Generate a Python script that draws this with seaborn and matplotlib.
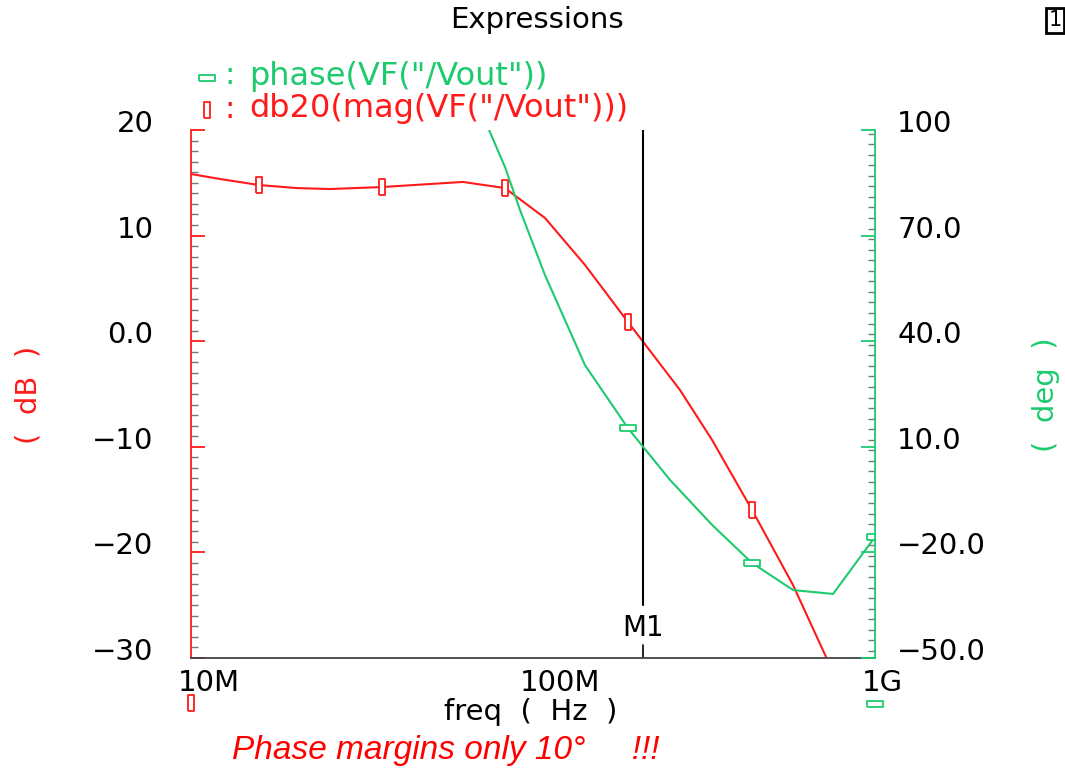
import numpy as np
import pandas as pd
import matplotlib
matplotlib.use("Agg")
import matplotlib.pyplot as plt
import matplotlib.ticker as mticker
from matplotlib.transforms import ScaledTranslation
import seaborn as sns

# ---------------- data ----------------
freq_db = [1.0e7, 1.216e7, 1.58e7, 2.04e7, 2.55e7, 3.62e7, 6.24e7, 8.28e7,
           1.084e8, 1.419e8, 1.895e8, 2.69e8, 3.34e8, 4.37e8, 5.76e8, 1.0e9]
mag_db = [15.83, 15.36, 14.79, 14.5, 14.41, 14.6, 15.08, 14.5,
          11.67, 7.22, 1.82, -4.62, -9.36, -15.98, -23.1, -40.0]
mag_marker_idx = [2, 5, 7, 10, 13]

freq_ph = [6.54e7, 7.44e7, 8.28e7, 9.16e7, 1.084e8, 1.419e8, 1.895e8,
           2.515e8, 3.34e8, 4.37e8, 5.76e8, 7.54e8, 1.0e9]
phase_deg = [111.0, 100.0, 89.5, 77.3, 58.8, 33.2, 15.3,
             0.6, -12.2, -23.0, -30.7, -31.8, -15.6]
phase_marker_idx = [6, 9, 12]

m1_freq = 2.1e8

x_ticks = [1e7, 1e8, 1e9]
x_ticklabels = ["10M", "100M", "1G"]
db_ticks = [-30, -20, -10, 0, 10, 20]
db_ticklabels = ["\u221230", "\u221220", "\u221210", "0.0", "10", "20"]
deg_ticks = [-50, -20, 10, 40, 70, 100]
deg_ticklabels = ["\u221250.0", "\u221220.0", "10.0", "40.0", "70.0", "100"]

RED = "#ff1a1a"
GREEN = "#1dcb6e"

df_mag = pd.DataFrame({"freq": freq_db, "db": mag_db})
df_ph = pd.DataFrame({"freq": freq_ph, "deg": phase_deg})

# ---------------- style ----------------
sns.set_style("white")
plt.rcParams["font.family"] = ["DejaVu Sans"]
plt.rcParams["axes.linewidth"] = 1.3

W, H = 1065, 773
fig = plt.figure(figsize=(W / 100, H / 100), dpi=100)
L, R, T, B = 191, 875, 130, 658
ax = fig.add_axes([L / W, 1 - B / H, (R - L) / W, (B - T) / H])
ax2 = ax.twinx()

# vertical rectangle marker (red) and horizontal rectangle marker (green)
vrect = [(-0.45, -1), (0.45, -1), (0.45, 1), (-0.45, 1), (-0.45, -1)]
hrect = [(-1, -0.4), (1, -0.4), (1, 0.4), (-1, 0.4), (-1, -0.4)]

# ---------------- lines ----------------
sns.lineplot(data=df_mag, x="freq", y="db", ax=ax, color=RED, lw=1.5,
             estimator=None, sort=False)
ax.plot(df_mag["freq"].iloc[mag_marker_idx], df_mag["db"].iloc[mag_marker_idx],
        ls="none", marker=vrect, ms=11, mfc="white", mec=RED, mew=1.3)

sns.lineplot(data=df_ph, x="freq", y="deg", ax=ax2, color=GREEN, lw=1.5,
             estimator=None, sort=False)
ax2.plot(df_ph["freq"].iloc[phase_marker_idx], df_ph["deg"].iloc[phase_marker_idx],
         ls="none", marker=hrect, ms=11, mfc="white", mec=GREEN, mew=1.3)

# M1 marker line
ax.axvline(m1_freq, ymin=0.10, ymax=1.0, color="black", lw=1.5)
ax.axvline(m1_freq, ymin=0.0, ymax=0.025, color="black", lw=1.2)
ax.text(m1_freq, -27.2, "M1", ha="center", va="center", fontsize=20,
        color="black")

# ---------------- axes ----------------
ax.set_xscale("log")
ax.set_xlim(1e7, 1e9)
ax.set_ylim(-30, 20)
ax2.set_ylim(-50, 100)

ax.set_xticks(x_ticks)
ax.set_xticklabels(x_ticklabels)
ax.xaxis.set_minor_locator(mticker.LogLocator(base=10, subs=np.arange(2, 10)))
ax.xaxis.set_minor_formatter(mticker.NullFormatter())

ax.set_yticks(db_ticks)
ax.set_yticklabels(db_ticklabels)
ax.yaxis.set_minor_locator(mticker.MultipleLocator(1))
ax2.set_yticks(deg_ticks)
ax2.set_yticklabels(deg_ticklabels)
ax2.yaxis.set_minor_locator(mticker.MultipleLocator(3))

ax.set_xlabel("")
ax.set_ylabel("")
ax2.set_ylabel("")

for s in ["top", "right"]:
    ax.spines[s].set_visible(False)
for s in ["top", "left", "bottom"]:
    ax2.spines[s].set_visible(False)
ax.spines["left"].set_color(RED)
ax.spines["bottom"].set_color("#444444")
ax2.spines["right"].set_color(GREEN)

ax.tick_params(axis="x", which="major", direction="in", length=9, width=1.2,
               color="#333333", labelsize=21, pad=8, labelcolor="black")
ax.tick_params(axis="x", which="minor", direction="in", length=5, width=1.2,
               color="#333333")
ax.tick_params(axis="y", which="major", direction="in", length=10, width=1.3,
               color=RED, labelsize=21, pad=27, labelcolor="black")
ax.tick_params(axis="y", which="minor", direction="in", length=5, width=1.0,
               color="#777777")
ax2.tick_params(axis="y", which="major", direction="in", length=10, width=1.3,
                color=GREEN, labelsize=21, pad=16, labelcolor="black")
ax2.tick_params(axis="y", which="minor", direction="in", length=5, width=1.0,
                color="#777777")

# label offsets like the waveform viewer
up = ScaledTranslation(0, 0.09, fig.dpi_scale_trans)
for t in ax.yaxis.get_major_ticks():
    t.label1.set_transform(t.label1.get_transform() + up)
for t in ax2.yaxis.get_major_ticks():
    t.label2.set_transform(t.label2.get_transform() + up)
left_shift = ScaledTranslation(-0.13, 0, fig.dpi_scale_trans)
for t in ax.xaxis.get_major_ticks():
    t.label1.set_horizontalalignment("left")
    t.label1.set_transform(t.label1.get_transform() + left_shift)

# ---------------- texts ----------------
def fx(px):
    return px / W

def fy(py):
    return 1 - py / H

fig.text(fx(537), fy(20), "Expressions", ha="center", va="center",
         fontsize=21, color="black")

# legend entries
fig.lines.append(plt.Line2D([fx(207)], [fy(78)], transform=fig.transFigure,
                            marker=hrect, ms=11, mfc="white", mec=GREEN,
                            mew=1.3, ls="none"))
fig.text(fx(224), fy(76), ":", ha="left", va="center", fontsize=22,
         color=GREEN)
fig.text(fx(249), fy(76), 'phase(VF("/Vout"))', ha="left", va="center",
         fontsize=23, color=GREEN)
fig.lines.append(plt.Line2D([fx(207)], [fy(110)], transform=fig.transFigure,
                            marker=vrect, ms=11, mfc="white", mec=RED,
                            mew=1.3, ls="none"))
fig.text(fx(224), fy(109), ":", ha="left", va="center", fontsize=22,
         color=RED)
fig.text(fx(249), fy(109), 'db20(mag(VF("/Vout")))', ha="left",
         va="center", fontsize=23, color=RED)

fig.text(fx(28), fy(395), "(  dB  )", rotation=90, ha="center", va="center",
         fontsize=21, color=RED)
fig.text(fx(1046), fy(395), "(  deg  )", rotation=90, ha="center",
         va="center", fontsize=21, color=GREEN)
fig.text(fx(531), fy(712), "freq  (  Hz  )", ha="center", va="center",
         fontsize=21, color="black")

# trace tags below the axis
ax.plot([0], [-0.085], transform=ax.transAxes, clip_on=False, ls="none",
        marker=vrect, ms=11, mfc="white", mec=RED, mew=1.3)
ax.plot([1], [-0.087], transform=ax.transAxes, clip_on=False, ls="none",
        marker=hrect, ms=11, mfc="white", mec=GREEN, mew=1.3)

fig.text(fx(232), fy(750), "Phase margins only 10\u00b0     !!!", ha="left",
         va="center", fontsize=24, color="#ff0000", style="italic",
         family=["Liberation Sans", "DejaVu Sans"])

fig.text(fx(1055), fy(20), "1", ha="center", va="center", fontsize=15,
         color="black",
         bbox=dict(boxstyle="square,pad=0.12", fc="white", ec="black", lw=2))

fig.savefig("out.png", dpi=100)
